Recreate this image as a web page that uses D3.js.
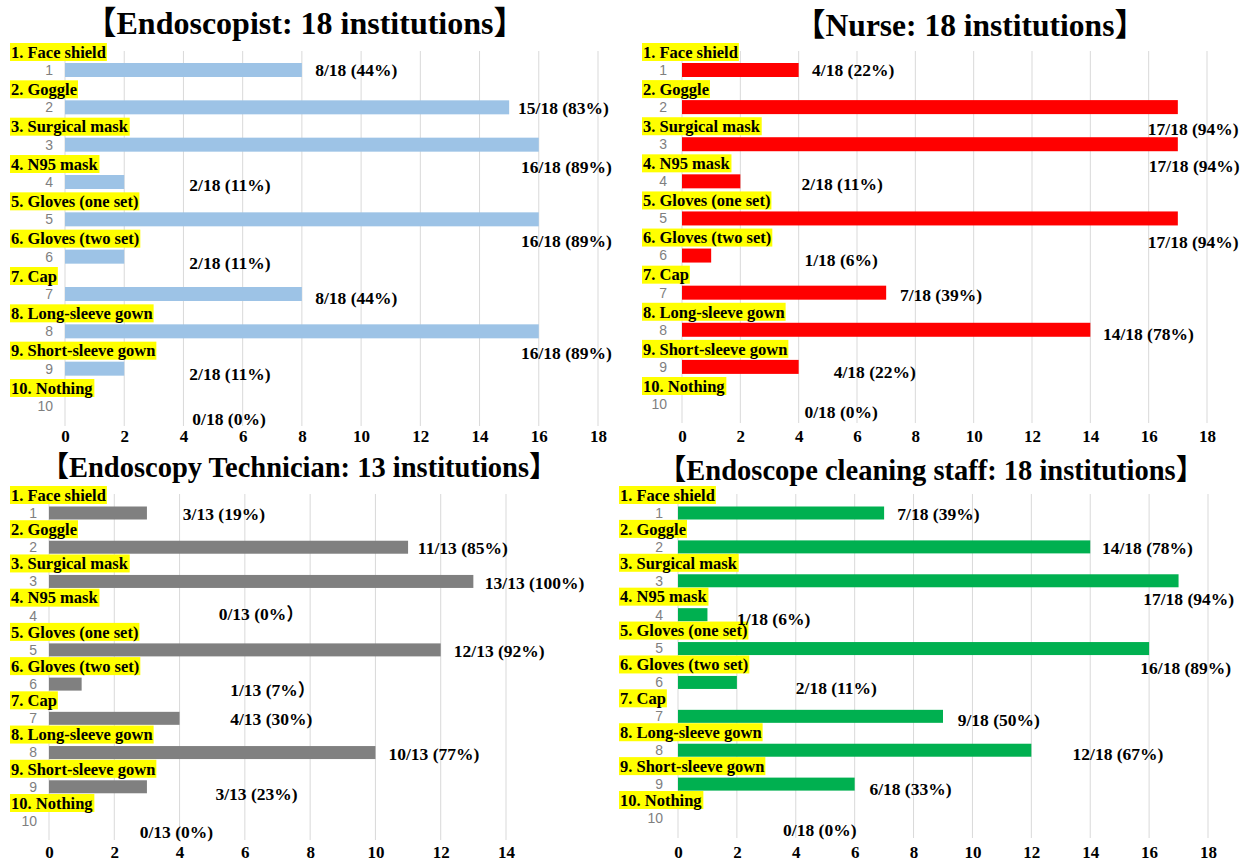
<!DOCTYPE html>
<html>
<head>
<meta charset="utf-8">
<script src="https://cdn.jsdelivr.net/npm/d3@7"></script>
<style>
body { margin: 0; background: #fff; }
svg { display: block; }
.title { font-family: "Liberation Serif", "Noto Sans CJK JP", serif; font-weight: bold; }
.cat { font-family: "Liberation Serif", serif; font-weight: bold; font-size: 16.5px; }
.num { font-family: "Liberation Sans", sans-serif; font-size: 14px; fill: #7f7f7f; }
.val { font-family: "Liberation Serif", "Noto Sans CJK JP", serif; font-weight: bold; font-size: 17.5px; }
</style>
</head>
<body>
<div id="chart"></div>
<script>

// ---- data ----
var categories = ["1. Face shield", "2. Goggle", "3. Surgical mask", "4. N95 mask",
    "5. Gloves (one set)", "6. Gloves (two set)", "7. Cap", "8. Long-sleeve gown",
    "9. Short-sleeve gown", "10. Nothing"];
var rowNumbers = [1, 2, 3, 4, 5, 6, 7, 8, 9, 10];

var endoscopistValues = [8, 15, 16, 2, 16, 2, 8, 16, 2, 0];
var nurseValues       = [4, 17, 17, 2, 17, 1, 7, 14, 4, 0];
var technicianValues  = [3, 11, 13, 0, 12, 1, 4, 10, 3, 0];
var cleaningValues    = [7, 14, 17, 1, 16, 2, 9, 12, 6, 0];

var endoscopistTotal = 18, nurseTotal = 18, technicianTotal = 13, cleaningTotal = 18;

// percentages as printed on the chart
var endoscopistPct = ["(44%)", "(83%)", "(89%)", "(11%)", "(89%)", "(11%)", "(44%)", "(89%)", "(11%)", "(0%)"];
var nursePct       = ["(22%)", "(94%)", "(94%)", "(11%)", "(94%)", "(6%)", "(39%)", "(78%)", "(22%)", "(0%)"];
var technicianPct  = ["(19%)", "(85%)", "(100%)", "(0%）", "(92%)", "(7%）", "(30%)", "(77%)", "(23%)", "(0%)"];
var cleaningPct    = ["(39%)", "(78%)", "(94%)", "(6%)", "(89%)", "(11%)", "(50%)", "(67%)", "(33%)", "(0%)"];

var ticks18 = [0, 2, 4, 6, 8, 10, 12, 14, 16, 18];
var ticks14 = [0, 2, 4, 6, 8, 10, 12, 14];

// where each data label sits: left edge in axis units, offset in px from bar centre
var endoscopistLabelPos = [[8.45,0],[15.3,1],[15.4,22],[4.2,3],[15.4,22],[4.2,6],[8.45,4],[15.4,22],[4.2,5],[4.3,13]];
var nurseLabelPos       = [[4.46,0],[15.97,22],[16.0,22],[4.1,3],[15.97,23],[4.2,4],[7.47,2],[14.43,4],[5.2,5],[4.2,8]];
var technicianLabelPos  = [[4.1,1],[11.3,1],[13.35,1],[5.2,-2],[12.4,1],[5.55,6],[5.55,1],[10.4,1],[5.1,7],[2.78,11]];
var cleaningLabelPos    = [[7.45,1],[14.4,1],[15.8,18],[2.0,4],[15.7,19],[4.0,5],[9.5,4],[13.4,4],[6.5,5],[3.57,12]];

var width = 1247, height = 861;
var svg = d3.select("#chart").append("svg")
    .attr("width", width)
    .attr("height", height);

var panels = [
    {title: "【Endoscopist: 18 institutions】", values: endoscopistValues, total: endoscopistTotal,
     pct: endoscopistPct, labels: endoscopistLabelPos, ticks: ticks18, color: "#9dc3e6",
     x0: 65, x1: 598, max: 18, yTop: 70, yBot: 406, gTop: 51, gBot: 426, tickY: 441,
     titleX: 305, titleY: 34, titleSize: 32, catX: 11, numX: 53, barH: 14},
    {title: "【Nurse: 18 institutions】", values: nurseValues, total: nurseTotal,
     pct: nursePct, labels: nurseLabelPos, ticks: ticks18, color: "#ff0000",
     x0: 682, x1: 1207, max: 18, yTop: 70, yBot: 404, gTop: 51, gBot: 423, tickY: 441,
     titleX: 970, titleY: 36, titleSize: 31.5, catX: 643, numX: 667, barH: 14},
    {title: "【Endoscopy Technician: 13 institutions】", values: technicianValues, total: technicianTotal,
     pct: technicianPct, labels: technicianLabelPos, ticks: ticks14, color: "#808080",
     x0: 49, x1: 506, max: 14, yTop: 513, yBot: 821, gTop: 494, gBot: 840, tickY: 857,
     titleX: 299, titleY: 477, titleSize: 28.5, catX: 11, numX: 37, barH: 13},
    {title: "【Endoscope cleaning staff: 18 institutions】", values: cleaningValues, total: cleaningTotal,
     pct: cleaningPct, labels: cleaningLabelPos, ticks: ticks18, color: "#00b050",
     x0: 678, x1: 1208, max: 18, yTop: 513, yBot: 818, gTop: 494, gBot: 838, tickY: 857,
     titleX: 931, titleY: 480, titleSize: 28.5, catX: 620, numX: 663, barH: 13}
];

panels.forEach(function(p) {

    var x = d3.scaleLinear().domain([0, p.max]).range([p.x0, p.x1]);
    var y = d3.scalePoint().domain(rowNumbers).range([p.yTop, p.yBot]);

    var g = svg.append("g");

    // gridlines
    g.selectAll("line.grid")
        .data(p.ticks)
        .enter()
        .append("line")
        .attr("x1", function(d) { return x(d); })
        .attr("x2", function(d) { return x(d); })
        .attr("y1", p.gTop)
        .attr("y2", p.gBot)
        .attr("stroke", "#d9d9d9")
        .attr("stroke-width", 1);

    // x axis labels
    var axis = d3.axisBottom(x).tickValues(p.ticks).tickSize(0).tickPadding(0);
    var ax = g.append("g")
        .attr("transform", "translate(0," + (p.tickY - 11) + ")")
        .call(axis);
    ax.select(".domain").remove();
    ax.attr("font-family", null).attr("font-size", null);
    ax.selectAll(".tick text")
        .attr("fill", "#000")
        .style("font-family", "'Liberation Serif', serif")
        .style("font-weight", "bold")
        .style("font-size", "17px");

    // category labels with yellow highlight
    var cat = g.selectAll("g.cat")
        .data(categories)
        .enter()
        .append("g")
        .attr("transform", function(d, i) { return "translate(" + p.catX + "," + (y(rowNumbers[i]) - 18) + ")"; });
    cat.append("rect")
        .attr("fill", "#ffff00");
    cat.append("text")
        .attr("class", "cat")
        .attr("dy", "0.35em")
        .text(function(d) { return d; });
    cat.each(function() {
        var t = d3.select(this).select("text").node().getBBox();
        d3.select(this).select("rect")
            .attr("x", t.x - 1).attr("y", -9)
            .attr("width", t.width + 2).attr("height", 18);
    });

    // row numbers
    g.selectAll("text.num")
        .data(rowNumbers)
        .enter()
        .append("text")
        .attr("class", "num")
        .attr("x", p.numX)
        .attr("y", function(d) { return y(d); })
        .attr("dy", "0.35em")
        .attr("text-anchor", "end")
        .text(function(d) { return d; });

    // bars
    g.selectAll("rect.bar")
        .data(p.values)
        .enter()
        .append("rect")
        .attr("class", "bar")
        .attr("x", x(0))
        .attr("y", function(d, i) { return y(rowNumbers[i]) - p.barH / 2; })
        .attr("width", function(d) { return x(d) - x(0); })
        .attr("height", p.barH)
        .attr("fill", p.color);

    // value labels
    g.selectAll("text.val")
        .data(p.values)
        .enter()
        .append("text")
        .attr("class", "val")
        .attr("x", function(d, i) { return x(p.labels[i][0]); })
        .attr("y", function(d, i) { return y(rowNumbers[i]) + p.labels[i][1]; })
        .attr("dy", "0.35em")
        .text(function(d, i) { return d + "/" + p.total + " " + p.pct[i]; });

    // title
    g.append("text")
        .attr("class", "title")
        .attr("x", p.titleX)
        .attr("y", p.titleY)
        .attr("text-anchor", "middle")
        .style("font-size", p.titleSize + "px")
        .text(p.title);
});

</script>
</body>
</html>
